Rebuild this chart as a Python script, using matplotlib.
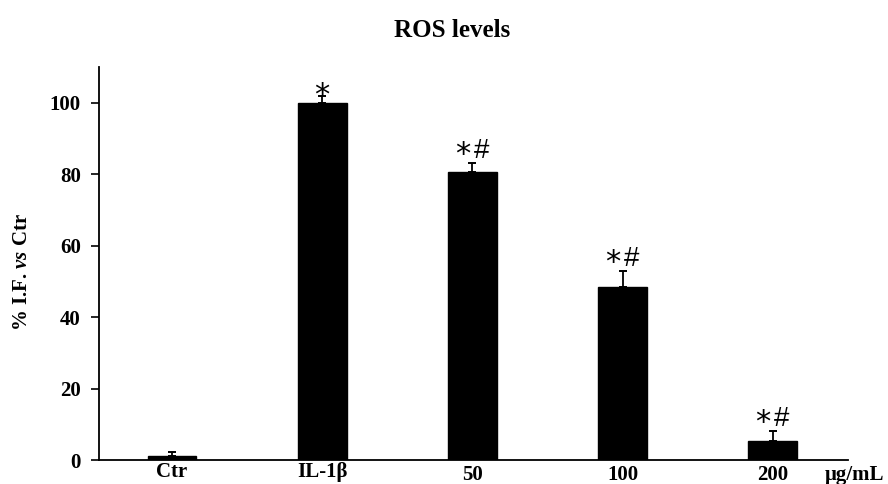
import matplotlib
matplotlib.use("Agg")
import matplotlib.pyplot as plt
from matplotlib.transforms import ScaledTranslation

categories = ["Ctr", "IL-1β", "50", "100", "200"]
values = [1, 100, 80.5, 48.3, 5.3]
errors = [1.2, 2, 2.7, 4.5, 2.8]
annotations = ["", "*", "*#", "*#", "*#"]
yticks = [0, 20, 40, 60, 80, 100]
unit_label = "μg/mL"

plt.rcParams['font.family'] = ['Liberation Serif', 'DejaVu Serif']
plt.rcParams['mathtext.fontset'] = 'custom'
plt.rcParams['mathtext.rm'] = 'Liberation Serif:bold'
plt.rcParams['mathtext.it'] = 'Liberation Serif:italic:bold'

W, H = 888, 484
fig = plt.figure(figsize=(W / 100, H / 100), dpi=100)
ax = fig.add_axes([99 / W, 1 - 460 / H, 749 / W, 393 / H])

x = list(range(len(categories)))
ax.bar(x, values, width=0.325, color="black", edgecolor="black", zorder=2)
ax.errorbar(x, values, yerr=[[0] * len(errors), errors], fmt="none",
            ecolor="black", elinewidth=1.3, capsize=2.8, capthick=1.4, zorder=3)

for xi, v, e, a in zip(x, values, errors, annotations):
    top = v + e
    if a == "*":
        ax.annotate("*", xy=(xi, top), xytext=(0, -6), textcoords="offset points",
                    ha="center", va="baseline", fontsize=22, family="DejaVu Sans")
    elif a == "*#":
        ax.annotate("*", xy=(xi, top), xytext=(-7, 0), textcoords="offset points",
                    ha="center", va="baseline", fontsize=22, family="DejaVu Sans")
        ax.annotate("#", xy=(xi, top), xytext=(6.5, 3.6), textcoords="offset points",
                    ha="center", va="baseline", fontsize=20, family="Liberation Sans")

ax.set_xlim(-0.486, 4.5)
ax.set_ylim(0, 110)
ax.set_yticks(yticks)
ax.set_yticklabels([str(t) for t in yticks], fontsize=15, fontweight="bold")
ax.set_xticks(x)
ax.set_xticklabels(categories, fontsize=15, fontweight="bold")
ax.tick_params(axis="x", length=0, pad=1.5)
ax.tick_params(axis="y", length=6, width=1.2, direction="out", pad=7)

for lab in ax.get_xticklabels():
    if lab.get_text().isdigit():
        lab.set_transform(lab.get_transform() + ScaledTranslation(0, -2.5 / 100, fig.dpi_scale_trans))

for s in ["top", "right"]:
    ax.spines[s].set_visible(False)
for s in ["left", "bottom"]:
    ax.spines[s].set_linewidth(1.3)

fig.text(22 / W, 1 - 272 / H, r"% I.F. $\mathit{vs}$ Ctr", rotation=90,
         ha="center", va="center", fontsize=15, fontweight="bold")
fig.text(452 / W, 1 - 37 / H, "ROS levels", ha="center", va="baseline",
         fontsize=18, fontweight="bold")
fig.text(825 / W, 1 - 480 / H, unit_label, ha="left", va="baseline",
         fontsize=15, fontweight="bold")

fig.savefig("out.png", dpi=100)
